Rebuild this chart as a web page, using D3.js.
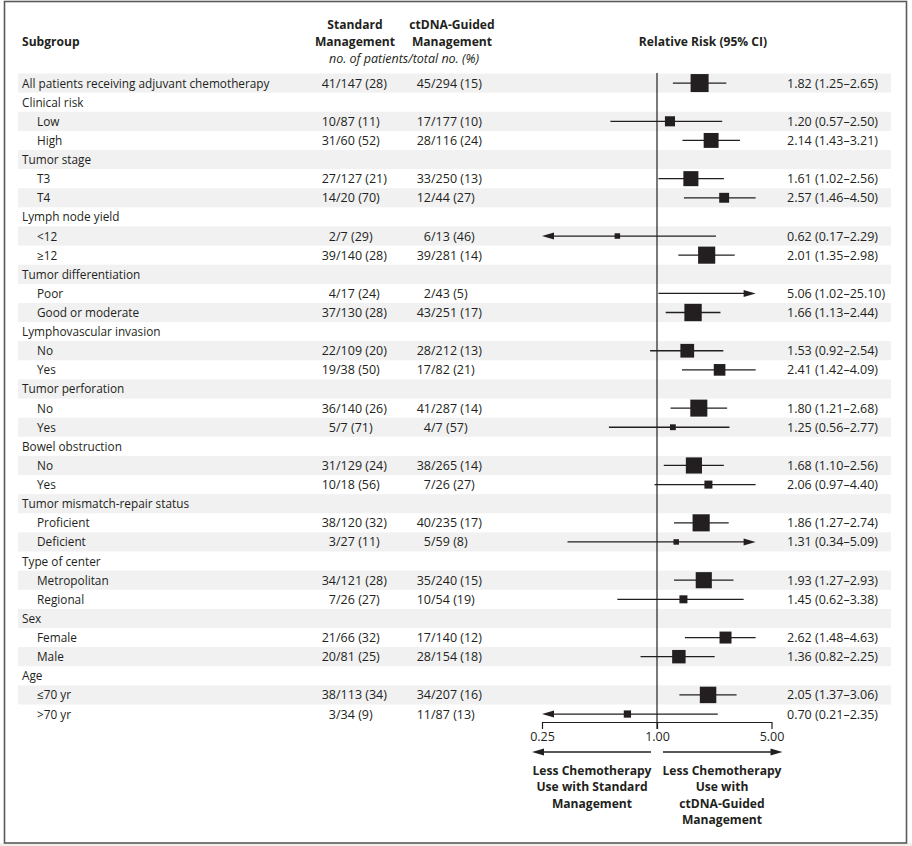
<!DOCTYPE html>
<html>
<head>
<meta charset="utf-8">
<script src="https://d3js.org/d3.v7.min.js"></script>
<style>
  body { margin: 0; background: #fff; }
  svg text { font-family: "Open Sans", sans-serif; fill: #231f20; }
  .row { font-size: 12.5px; }
  .lbl { font-size: 11.8px; }
  .hdr { font-size: 12.1px; font-weight: bold; }
  .ital { font-size: 12.5px; font-style: italic; }
  .tick text { font-size: 12.5px; }
</style>
</head>
<body>
<div id="chart"></div>
<script>
// rows, top to bottom
const subgroups = ["All patients receiving adjuvant chemotherapy", "Clinical risk", "Low", "High",
  "Tumor stage", "T3", "T4", "Lymph node yield", "<12", "≥12", "Tumor differentiation", "Poor",
  "Good or moderate", "Lymphovascular invasion", "No", "Yes", "Tumor perforation", "No", "Yes",
  "Bowel obstruction", "No", "Yes", "Tumor mismatch-repair status", "Proficient", "Deficient",
  "Type of center", "Metropolitan", "Regional", "Sex", "Female", "Male", "Age", "≤70 yr", ">70 yr"];
const indent = [0,0,1,1,0,1,1,0,1,1,0,1,1,0,1,1,0,1,1,0,1,1,0,1,1,0,1,1,0,1,1,0,1,1];

const stdEvents = [41,null,10,31,null,27,14,null,2,39,null,4,37,null,22,19,null,36,5,null,31,10,null,38,3,null,34,7,null,21,20,null,38,3];
const stdTotal  = [147,null,87,60,null,127,20,null,7,140,null,17,130,null,109,38,null,140,7,null,129,18,null,120,27,null,121,26,null,66,81,null,113,34];
const stdPct    = [28,null,11,52,null,21,70,null,29,28,null,24,28,null,20,50,null,26,71,null,24,56,null,32,11,null,28,27,null,32,25,null,34,9];

const ctEvents = [45,null,17,28,null,33,12,null,6,39,null,2,43,null,28,17,null,41,4,null,38,7,null,40,5,null,35,10,null,17,28,null,34,11];
const ctTotal  = [294,null,177,116,null,250,44,null,13,281,null,43,251,null,212,82,null,287,7,null,265,26,null,235,59,null,240,54,null,140,154,null,207,87];
const ctPct    = [15,null,10,24,null,13,27,null,46,14,null,5,17,null,13,21,null,14,57,null,14,27,null,17,8,null,15,19,null,12,18,null,16,13];

const rr    = [1.82,null,1.20,2.14,null,1.61,2.57,null,0.62,2.01,null,5.06,1.66,null,1.53,2.41,null,1.80,1.25,null,1.68,2.06,null,1.86,1.31,null,1.93,1.45,null,2.62,1.36,null,2.05,0.70];
const rrLow = [1.25,null,0.57,1.43,null,1.02,1.46,null,0.17,1.35,null,1.02,1.13,null,0.92,1.42,null,1.21,0.56,null,1.10,0.97,null,1.27,0.34,null,1.27,0.62,null,1.48,0.82,null,1.37,0.21];
const rrHigh= [2.65,null,2.50,3.21,null,2.56,4.50,null,2.29,2.98,null,25.10,2.44,null,2.54,4.09,null,2.68,2.77,null,2.56,4.40,null,2.74,5.09,null,2.93,3.38,null,4.63,2.25,null,3.06,2.35];

const axisTicks = [0.25, 1, 5];
// lines are cut at these values; an arrowhead marks a CI that runs off the axis
const clipLow = 0.25, clipHigh = 4;
const leftLabel = ["Less Chemotherapy", "Use with Standard", "Management"];
const rightLabel = ["Less Chemotherapy", "Use with", "ctDNA-Guided", "Management"];

const W = 912, H = 846;
const svg = d3.select("#chart").append("svg").attr("width", W).attr("height", H);

// frame
svg.append("rect").attr("x", 0).attr("y", 843).attr("width", W).attr("height", 3).attr("fill", "#f3f0eb");
svg.append("rect").attr("x", 4.5).attr("y", 1.5).attr("width", 902).attr("height", 841.5)
  .attr("fill", "none").attr("stroke", "#5a5a5a").attr("stroke-width", 1.6);

const rows = subgroups.map((s, i) => ({
  label: s, i: i, indent: indent[i],
  se: stdEvents[i], st: stdTotal[i], sp: stdPct[i],
  ce: ctEvents[i], ct: ctTotal[i], cp: ctPct[i],
  rr: rr[i], lo: rrLow[i], hi: rrHigh[i]
}));

const y = d3.scaleBand().domain(d3.range(rows.length)).range([73.5, 723.6]).padding(0);
const x = d3.scaleLog().domain(axisTicks).range([542, 657, 771.5]);
const box = d3.scaleSqrt().domain([0, 86]).range([0, 18]);
const xMin = x.domain()[0], xMax = x.domain()[2];

// stripes
svg.append("g").selectAll("rect").data(rows.filter(d => d.i % 2 === 0)).join("rect")
  .attr("x", 18).attr("width", 873)
  .attr("y", d => y(d.i)).attr("height", y.bandwidth())
  .attr("fill", "#f1f1f2");

// header
svg.append("text").attr("class", "hdr").attr("x", 22).attr("y", 46).text("Subgroup");
svg.append("text").attr("class", "hdr").attr("x", 355).attr("y", 29).attr("text-anchor", "middle").text("Standard");
svg.append("text").attr("class", "hdr").attr("x", 355).attr("y", 46).attr("text-anchor", "middle").text("Management");
svg.append("text").attr("class", "hdr").attr("x", 452).attr("y", 29).attr("text-anchor", "middle").text("ctDNA-Guided");
svg.append("text").attr("class", "hdr").attr("x", 452).attr("y", 46).attr("text-anchor", "middle").text("Management");
svg.append("text").attr("class", "ital").attr("x", 404).attr("y", 63).attr("text-anchor", "middle").text("no. of patients/total no. (%)");
svg.append("text").attr("class", "hdr").attr("x", 703).attr("y", 46).attr("text-anchor", "middle").text("Relative Risk (95% CI)");

const cy = d => y(d.i) + y.bandwidth() / 2;
const base = d => cy(d) + 4.5;

// labels
svg.append("g").selectAll("text").data(rows).join("text")
  .attr("class", "lbl")
  .attr("x", d => d.indent ? 37 : 22).attr("y", base)
  .text(d => d.label);

const dataRows = rows.filter(d => d.rr !== null);
const f2 = d3.format(".2f");

function countCol(sx, ev, tot, pct) {
  const g = svg.append("g");
  g.selectAll("text.num").data(dataRows).join("text").attr("class", "row num")
    .attr("x", sx).attr("y", base).attr("text-anchor", "end").text(d => d[ev]);
  g.selectAll("text.den").data(dataRows).join("text").attr("class", "row den")
    .attr("x", sx).attr("y", base).text(d => "/" + d[tot] + " (" + d[pct] + ")");
}
countCol(336, "se", "st", "sp");
countCol(431, "ce", "ct", "cp");

// RR text
svg.append("g").selectAll("text").data(dataRows).join("text")
  .attr("class", "row").attr("x", 787).attr("y", base)
  .text(d => f2(d.rr) + " (" + f2(d.lo) + "–" + f2(d.hi) + ")");

// reference line at 1
svg.append("line").attr("x1", x(1)).attr("x2", x(1)).attr("y1", 73).attr("y2", 729)
  .attr("stroke", "#231f20").attr("stroke-width", 1.2);

// CI lines + arrows
const fg = svg.append("g");
fg.selectAll("line").data(dataRows).join("line")
  .attr("x1", d => x(Math.max(d.lo, clipLow)) + (d.lo < xMin ? 6 : 0))
  .attr("x2", d => x(Math.min(d.hi, clipHigh)) - (d.hi > xMax ? 6 : 0))
  .attr("y1", cy).attr("y2", cy)
  .attr("stroke", "#231f20").attr("stroke-width", 1.3);

fg.selectAll("path.la").data(dataRows.filter(d => d.lo < xMin)).join("path").attr("class", "la")
  .attr("d", d => { const t = x(clipLow), c = cy(d); return `M${t},${c}L${t + 12},${c - 3.5}L${t + 12},${c + 3.5}Z`; })
  .attr("fill", "#231f20");
fg.selectAll("path.ra").data(dataRows.filter(d => d.hi > xMax)).join("path").attr("class", "ra")
  .attr("d", d => { const t = x(clipHigh), c = cy(d); return `M${t},${c}L${t - 12},${c - 3.5}L${t - 12},${c + 3.5}Z`; })
  .attr("fill", "#231f20");

// boxes
fg.selectAll("rect").data(dataRows.filter(d => d.rr <= clipHigh)).join("rect")
  .attr("x", d => x(d.rr) - box(d.se + d.ce) / 2)
  .attr("y", d => cy(d) - box(d.se + d.ce) / 2)
  .attr("width", d => box(d.se + d.ce))
  .attr("height", d => box(d.se + d.ce))
  .attr("fill", "#231f20");

// axis
const ax = svg.append("g").attr("transform", "translate(0,722)")
  .call(d3.axisBottom(x).tickValues(axisTicks).tickFormat(f2).tickSize(7).tickSizeOuter(0));
ax.select(".domain").attr("stroke", "#231f20").attr("stroke-width", 1.2);
ax.selectAll(".tick line").attr("stroke", "#231f20").attr("stroke-width", 1.2);
ax.selectAll(".tick text").attr("fill", "#231f20").attr("font-family", null).attr("font-size", null);

// direction arrows
const ay = 752;
svg.append("line").attr("x1", x(1) - 6).attr("x2", x(0.25) - 4).attr("y1", ay).attr("y2", ay).attr("stroke", "#231f20").attr("stroke-width", 1.3);
svg.append("path").attr("d", `M${x(0.25) - 10},${ay}L${x(0.25) + 2},${ay - 3.5}L${x(0.25) + 2},${ay + 3.5}Z`).attr("fill", "#231f20");
svg.append("line").attr("x1", x(1) + 6).attr("x2", x(5) + 4).attr("y1", ay).attr("y2", ay).attr("stroke", "#231f20").attr("stroke-width", 1.3);
svg.append("path").attr("d", `M${x(5) + 11},${ay}L${x(5) - 1},${ay - 3.5}L${x(5) - 1},${ay + 3.5}Z`).attr("fill", "#231f20");

svg.append("g").selectAll("text").data(leftLabel).join("text").attr("class", "hdr")
  .attr("x", 592).attr("y", (d, i) => 775 + i * 16.3).attr("text-anchor", "middle").text(d => d);
svg.append("g").selectAll("text").data(rightLabel).join("text").attr("class", "hdr")
  .attr("x", 722).attr("y", (d, i) => 775 + i * 16.3).attr("text-anchor", "middle").text(d => d);
</script>
</body>
</html>
